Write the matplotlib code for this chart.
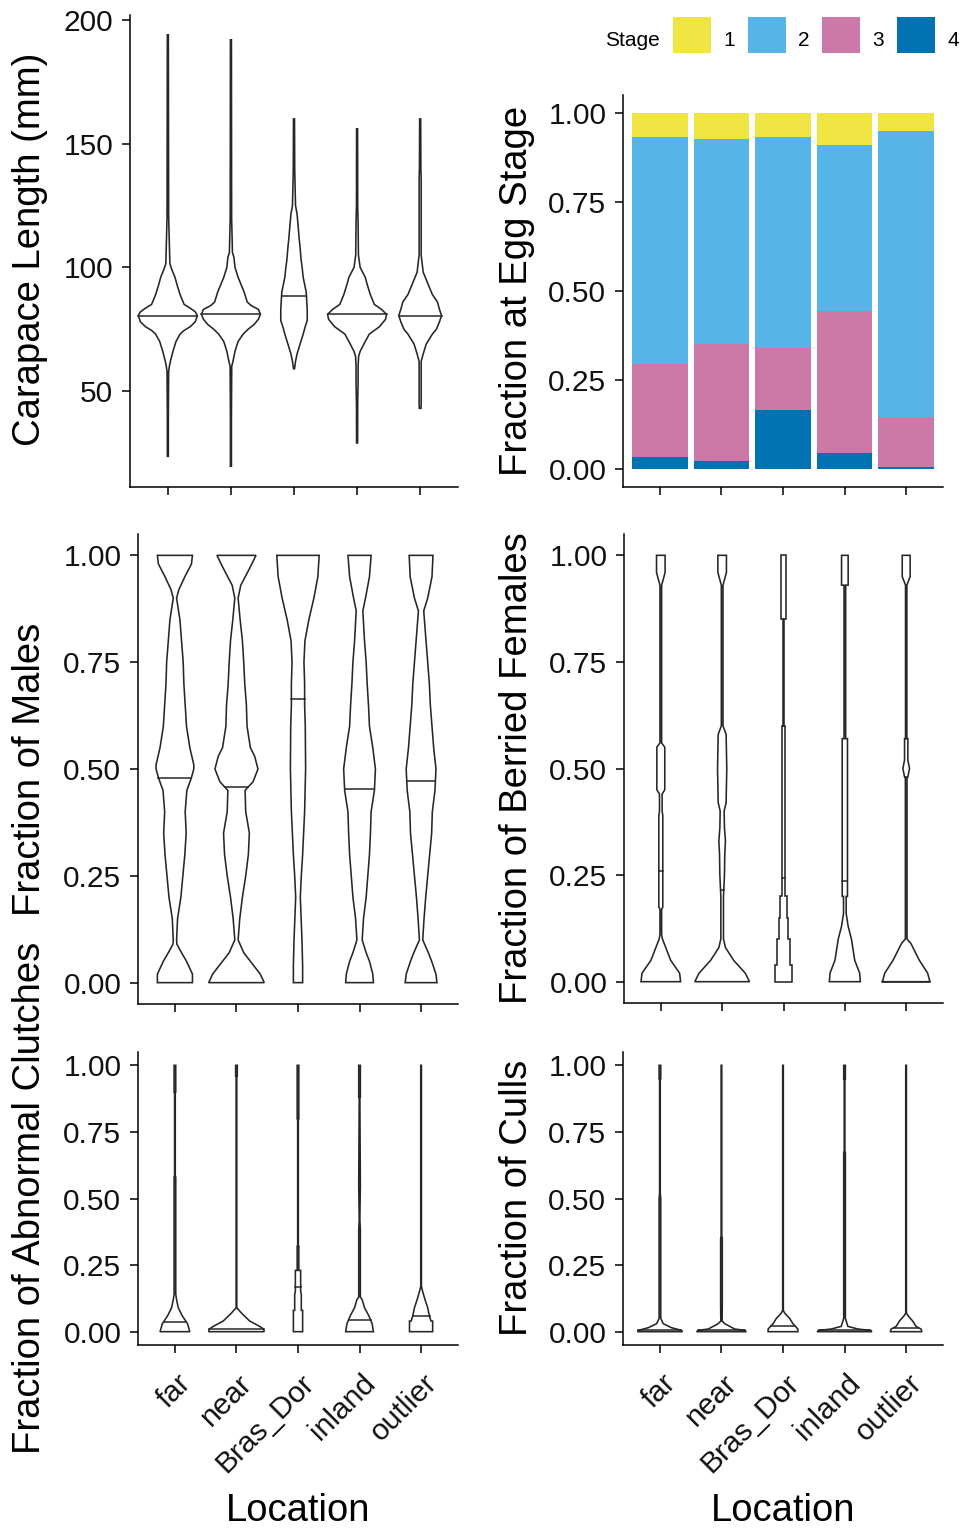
import numpy as np
import matplotlib.pyplot as plt
from matplotlib.patches import Rectangle
from matplotlib.transforms import ScaledTranslation

plt.rcParams['font.family'] = ['Liberation Sans', 'DejaVu Sans']

locations = ['far', 'near', 'Bras_Dor', 'inland', 'outlier']

# egg stage fractions per location (stacked bar)
stages = ['1', '2', '3', '4']
stage_colors = ['#F0E442', '#56B4E9', '#CC79A7', '#0072B2']
stage1 = [0.067, 0.073, 0.067, 0.090, 0.051]
stage2 = [0.638, 0.576, 0.593, 0.467, 0.802]
stage3 = [0.260, 0.328, 0.174, 0.398, 0.140]
stage4 = [0.035, 0.023, 0.166, 0.045, 0.007]

# violin outlines: y knots and half widths (relative density)
cl_y = [
    [23.6, 40, 58, 60, 62, 66, 70, 73, 74.5, 76, 78, 80.5, 82, 83.5, 85, 89, 93, 96, 99, 101.5, 120, 194],
    [19.6, 40, 60, 62, 66, 70, 73, 75, 77, 79, 81, 83, 84.5, 86, 90, 93, 96, 100, 104, 106, 120, 192],
    [59, 62, 65, 69, 73, 76, 78.5, 83, 86.5, 90, 92, 96, 100, 103, 108, 112, 117, 121.6, 125, 134, 140, 160],
    [29, 45, 53, 55, 60, 64, 66, 70, 73, 76, 79, 81, 83, 85, 89, 93, 96, 100, 105, 118, 125, 156],
    [43, 45, 55, 62, 65, 69, 73, 75, 78, 80.5, 83, 86, 89, 92, 95, 98, 105, 120, 136, 140, 160],
]
cl_w = [
    [1.5, 1.5, 2.4, 4.5, 7.5, 15, 24, 36, 48, 66, 81, 87, 81, 66, 48, 36, 27, 21, 12, 6, 2.4, 1.5],
    [1.5, 1.5, 2.4, 6, 12, 21, 36, 51, 69, 81, 87, 81, 60, 48, 39, 30, 21, 12, 9, 4.5, 2.1, 1.5],
    [1.5, 4.5, 9, 18, 27, 33, 39, 39, 37.5, 36, 33, 27, 24, 21, 18, 15, 12, 9, 4.5, 3, 2.1, 1.5],
    [1.5, 1.8, 3, 3, 3, 4.5, 9, 24, 36, 66, 84, 87, 72, 51, 39, 30, 24, 9, 4, 3, 1.8, 1.5],
    [2.5, 3, 3, 3, 9, 18, 36, 48, 57, 63, 57, 51, 36, 27, 18, 9, 3, 3, 3, 2.1, 1.5],
]
cl_med = [80.4, 81.0, 88.5, 81.0, 80.5]

males_y = [
    [0, 0.02, 0.05, 0.07, 0.09, 0.1, 0.15, 0.2, 0.25, 0.3, 0.35, 0.4, 0.45, 0.48, 0.5, 0.51, 0.55, 0.6, 0.65, 0.7, 0.75, 0.8, 0.85, 0.9, 0.92, 0.95, 0.98, 1.0],
    [0, 0.02, 0.05, 0.07, 0.1, 0.15, 0.2, 0.25, 0.3, 0.35, 0.4, 0.45, 0.47, 0.5, 0.53, 0.55, 0.6, 0.65, 0.7, 0.75, 0.8, 0.85, 0.9, 0.93, 0.97, 1.0],
    [0, 0.04, 0.1, 0.2, 0.25, 0.3, 0.4, 0.5, 0.6, 0.65, 0.7, 0.75, 0.8, 0.85, 0.9, 0.95, 1.0],
    [0, 0.02, 0.05, 0.07, 0.1, 0.15, 0.2, 0.25, 0.3, 0.35, 0.4, 0.45, 0.5, 0.55, 0.6, 0.65, 0.7, 0.75, 0.8, 0.87, 0.9, 0.95, 1.0],
    [0, 0.02, 0.05, 0.07, 0.1, 0.15, 0.2, 0.25, 0.3, 0.35, 0.4, 0.45, 0.5, 0.55, 0.6, 0.65, 0.7, 0.75, 0.8, 0.87, 0.9, 0.95, 1.0],
]
males_w = [
    [53, 53, 35, 20, 6, 5, 8, 18, 24, 30, 34, 31, 36, 50, 57, 57, 45, 35, 31, 27, 25, 20, 15, 5, 12, 30, 50, 53],
    [84, 72, 42, 22, 5, 10, 18, 28, 36, 39, 28, 26, 50, 65, 55, 42, 32, 30, 25, 22, 18, 11, 5, 13, 40, 59],
    [14, 14, 12, 7, 10, 14, 20, 23, 22, 20, 20, 18, 21, 33, 48, 60, 64],
    [42, 40, 30, 20, 8, 12, 20, 25, 30, 33, 35, 45, 48, 40, 30, 27, 23, 20, 15, 10, 18, 30, 35],
    [48, 45, 32, 22, 5, 9, 14, 20, 26, 32, 34, 42, 45, 38, 33, 28, 25, 20, 15, 8, 20, 33, 36],
]
males_med = [0.48, 0.457, 0.663, 0.453, 0.471]

berried_y = [
    [0, 0.02, 0.05, 0.08, 0.1, 0.11, 0.17, 0.175, 0.39, 0.40, 0.44, 0.45, 0.55, 0.56, 0.93, 0.945, 0.96, 1.0],
    [0, 0.02, 0.05, 0.08, 0.1, 0.12, 0.2, 0.25, 0.3, 0.33, 0.36, 0.4, 0.42, 0.5, 0.58, 0.6, 0.93, 0.96, 1.0],
    [0, 0.04, 0.04, 0.1, 0.1, 0.15, 0.15, 0.2, 0.2, 0.25, 0.25, 0.6, 0.6, 0.85, 0.85, 1.0],
    [0, 0.02, 0.05, 0.1, 0.13, 0.16, 0.2, 0.2, 0.57, 0.57, 0.93, 0.93, 1.0],
    [0, 0.02, 0.05, 0.09, 0.1, 0.48, 0.48, 0.5, 0.52, 0.57, 0.57, 0.93, 0.95, 1.0],
]
berried_w = [
    [60, 57, 30, 15, 5, 2.5, 2.5, 6, 6, 4, 4, 12, 12, 2.5, 2.5, 8, 13, 13],
    [83, 70, 35, 10, 4, 4, 4, 7, 8, 10, 7, 6, 12, 14, 12, 2.5, 2.5, 13, 13],
    [26, 26, 21, 21, 13, 13, 10, 10, 4, 4, 6, 6, 2.5, 2.5, 8, 8],
    [47, 45, 30, 20, 10, 4, 4, 8, 8, 2.5, 2.5, 10, 10],
    [72, 65, 40, 14, 2.5, 2.5, 5, 10, 5, 5, 2, 2, 12, 12],
]
berried_med = [0.26, 0.216, 0.244, 0.236, 0.0]

abn_y = [
    [0, 0.03, 0.06, 0.09, 0.12, 0.14, 0.2, 0.2, 0.58, 0.58, 0.9, 0.9, 1.0],
    [0, 0.01, 0.02, 0.04, 0.07, 0.09, 0.96, 0.96, 1.0],
    [0, 0.08, 0.08, 0.14, 0.15, 0.23, 0.23, 0.32, 0.32, 0.8, 0.8, 1.0],
    [0, 0.03, 0.06, 0.09, 0.12, 0.13, 0.38, 0.42, 0.55, 0.88, 0.88, 1.0],
    [0, 0.04, 0.04, 0.06, 0.09, 0.12, 0.15, 0.17, 1.0],
]
abn_w = [
    [45, 38, 22, 10, 5, 2.5, 2.5, 2.5, 2.5, 1, 1, 2.5, 2.5],
    [84, 82, 70, 40, 15, 1, 1, 2.5, 2.5],
    [14, 14, 10, 10, 8, 8, 2.5, 2.5, 1, 1, 2.5, 2.5],
    [42, 38, 28, 15, 8, 2.5, 2.5, 1, 2.5, 1, 2.5, 2.5],
    [35, 35, 30, 25, 20, 12, 5, 1, 1],
]
abn_med = [0.037, 0.01, 0.166, 0.044, 0.057]

culls_y = [
    [0, 0.005, 0.015, 0.03, 0.05, 0.5, 0.52, 0.95, 0.95, 1.0],
    [0, 0.005, 0.01, 0.03, 0.04, 0.1, 0.35, 0.36, 1.0],
    [0, 0.01, 0.03, 0.05, 0.07, 0.08, 1.0],
    [0, 0.005, 0.01, 0.02, 0.05, 0.67, 0.68, 0.95, 0.95, 1.0],
    [0, 0.01, 0.02, 0.04, 0.06, 0.07, 1.0],
]
culls_w = [
    [68, 65, 35, 10, 2.5, 2.5, 1, 1, 2.5, 2.5],
    [75, 70, 40, 10, 2, 2.5, 2.5, 1, 1],
    [45, 45, 30, 20, 5, 1, 1],
    [83, 78, 40, 10, 2.5, 2.5, 1, 1, 2.5, 2.5],
    [48, 45, 30, 20, 6, 1, 1],
]
culls_med = [0.005, 0.005, 0.02, 0.005, 0.015]

W, H = 963, 1531
WSCALE = 1 / 186.0
LINE = '#262626'

fig = plt.figure(figsize=(W / 100, H / 100), dpi=100)


def make_ax(left, top, right, bottom):
    return fig.add_axes([left / W, 1 - bottom / H, (right - left) / W, (bottom - top) / H])


def style(ax, ylim, yticks, ylabels, bottom_row):
    ax.set_xlim(0.4, 5.6)
    ax.set_ylim(*ylim)
    for s in ['top', 'right']:
        ax.spines[s].set_visible(False)
    for s in ['left', 'bottom']:
        ax.spines[s].set_linewidth(1.1)
    ax.set_yticks(yticks)
    ax.set_yticklabels(ylabels)
    ax.set_xticks(range(1, 6))
    ax.tick_params(length=6, width=1.1, pad=6, labelsize=21.5, labelcolor='#111111')
    if bottom_row:
        ax.set_xticklabels(locations, rotation=45, ha='right', va='top', rotation_mode='anchor')
        off = ScaledTranslation(1 / 72, -5 / 72, fig.dpi_scale_trans)
        for lb in ax.get_xticklabels():
            lb.set_transform(lb.get_transform() + off)
    else:
        ax.set_xticklabels([])


def violins(ax, ys, ws, meds):
    for i in range(len(ys)):
        y = np.array(ys[i], dtype=float)
        w = np.array(ws[i], dtype=float) * WSCALE
        c = i + 1
        xs = np.concatenate([c - w, (c + w)[::-1]])
        yy = np.concatenate([y, y[::-1]])
        ax.fill(xs, yy, facecolor='white', edgecolor=LINE, lw=1.15, zorder=2)
        hm = np.interp(meds[i], y, w)
        ax.plot([c - hm, c + hm], [meds[i], meds[i]], color=LINE, lw=1.1, zorder=3)


frac_ticks = [0, 0.25, 0.5, 0.75, 1.0]
frac_labels = ['0.00', '0.25', '0.50', '0.75', '1.00']

# carapace length
ax1 = make_ax(130, 15, 458, 487)
violins(ax1, cl_y, cl_w, cl_med)
style(ax1, (11.2, 202.0), [50, 100, 150, 200], ['50', '100', '150', '200'], False)

# egg stage stacked bars (stage 4 at the bottom)
ax2 = make_ax(623, 95, 943, 487)
xpos = np.arange(1, 6)
bottom = np.zeros(5)
for vals, col in zip([stage4, stage3, stage2, stage1], stage_colors[::-1]):
    ax2.bar(xpos, vals, width=0.9, bottom=bottom, color=col, edgecolor='none', zorder=2)
    bottom = bottom + np.array(vals)
style(ax2, (-0.05, 1.05), frac_ticks, frac_labels, False)

ax3 = make_ax(138, 534, 458, 1004)
violins(ax3, males_y, males_w, males_med)
style(ax3, (-0.05, 1.05), frac_ticks, frac_labels, False)

ax4 = make_ax(624, 534, 943, 1003)
violins(ax4, berried_y, berried_w, berried_med)
style(ax4, (-0.05, 1.05), frac_ticks, frac_labels, False)

ax5 = make_ax(138, 1052, 458, 1345)
violins(ax5, abn_y, abn_w, abn_med)
style(ax5, (-0.05, 1.05), frac_ticks, frac_labels, True)

ax6 = make_ax(623, 1052, 943, 1345)
violins(ax6, culls_y, culls_w, culls_med)
style(ax6, (-0.05, 1.05), frac_ticks, frac_labels, True)

# axis titles
ytitles = [
    ('Carapace Length (mm)', 30, 249),
    ('Fraction of Males', 30, 769),
    ('Fraction of Abnormal Clutches', 30, 1198),
    ('Fraction at Egg Stage', 517, 291),
    ('Fraction of Berried Females', 517, 768),
    ('Fraction of Culls', 517, 1198),
]
for s, px, py in ytitles:
    fig.text(px / W, 1 - py / H, s, rotation=90, ha='center', va='center', fontsize=27.5)
for px in [298, 783]:
    fig.text(px / W, 1 - 1511 / H, 'Location', ha='center', va='center', fontsize=27.5)

# legend
fig.text(632 / W, 1 - 40 / H, 'Stage', ha='center', va='center', fontsize=15)
for i, (lab, col) in enumerate(zip(stages, stage_colors)):
    kx = 673 + 74.7 * i
    fig.add_artist(Rectangle((kx / W, 1 - 53 / H), 38 / W, 36 / H,
                             transform=fig.transFigure, facecolor=col, edgecolor='none'))
    fig.text((kx + 56) / W, 1 - 40 / H, lab, ha='center', va='center', fontsize=15)

fig.savefig('out.png', dpi=100)
